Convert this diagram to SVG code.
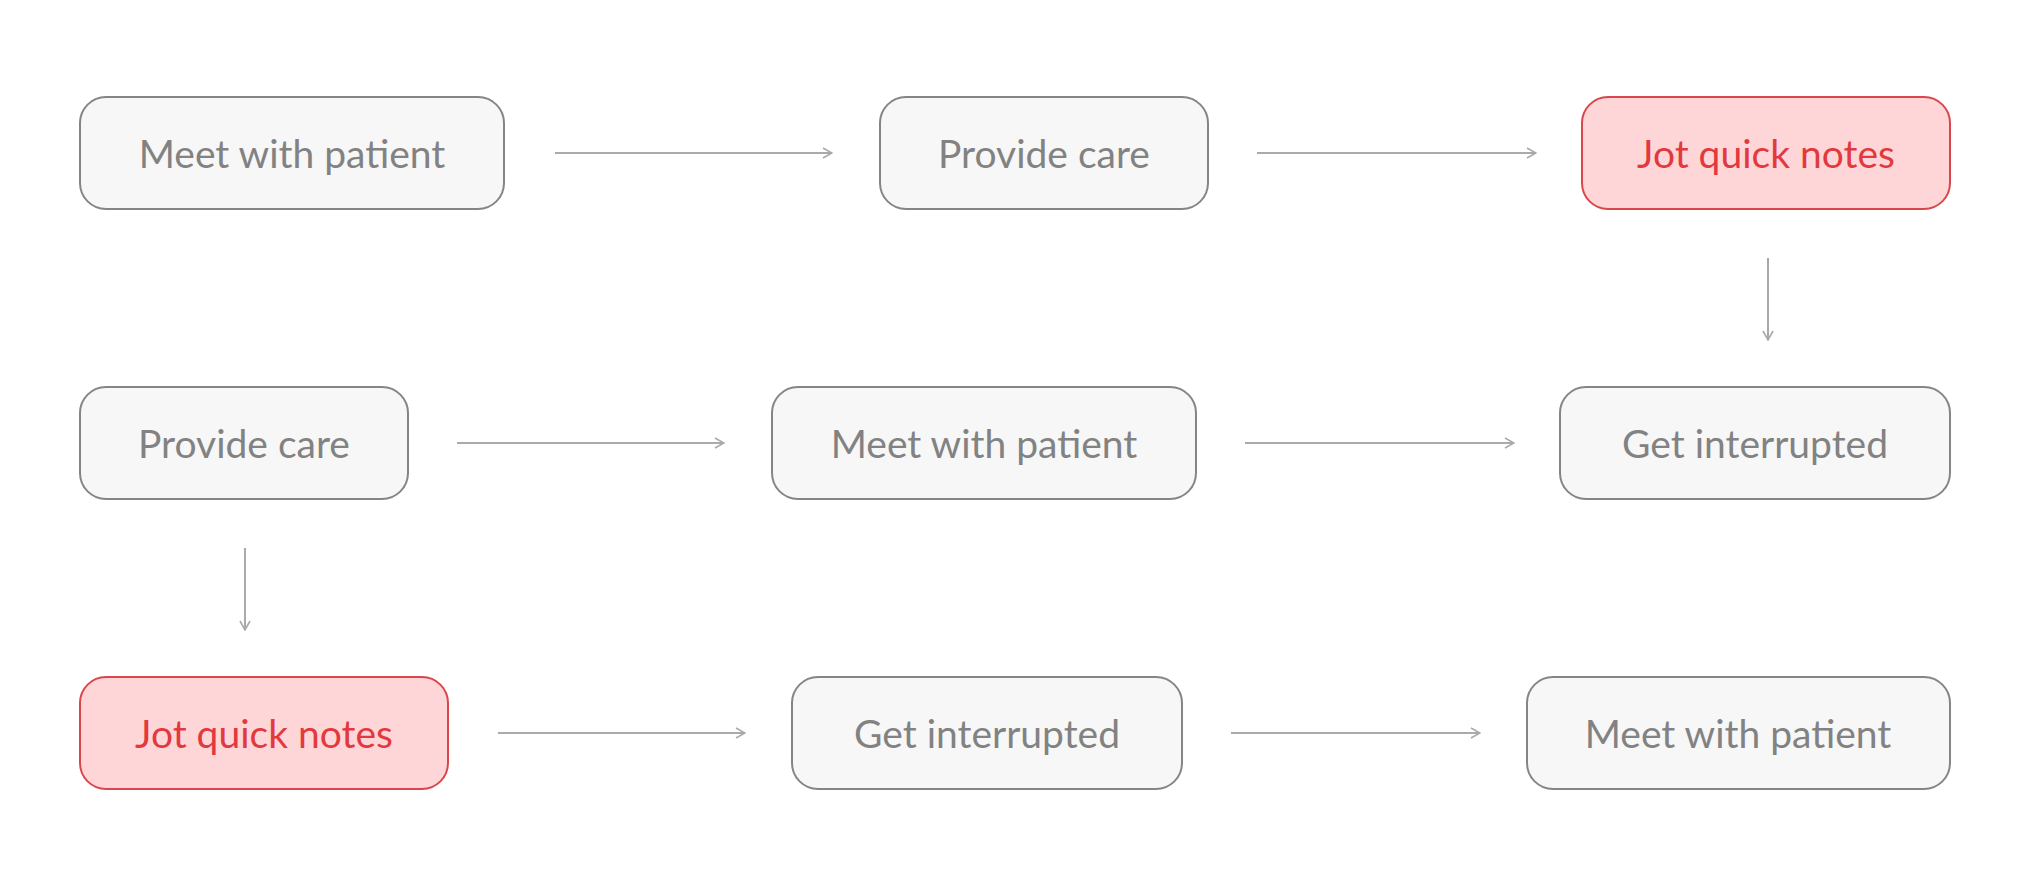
<svg xmlns="http://www.w3.org/2000/svg" width="2032" height="886" viewBox="0 0 2032 886">
<style>
.n rect{fill:#f7f7f7;stroke:#858585;stroke-width:2}
.n text{fill:#828282;font-family:Lato,"Open Sans",sans-serif;font-size:39px;text-anchor:middle;dominant-baseline:central}
.r rect{fill:#ffd6d7;stroke:#d9474c}
.r text{fill:#e2393f}
#edges line{stroke:#aaaaaa;stroke-width:2;marker-end:url(#a)}
</style>
<defs><marker id="a" viewBox="0 0 12 12" refX="11" refY="6" markerWidth="12" markerHeight="12" markerUnits="userSpaceOnUse" orient="auto"><path d="M2,1 L11,6 L2,11" fill="none" stroke="#aaaaaa" stroke-width="1.6"/></marker></defs>
<rect width="2032" height="886" fill="#fff"/>
<g id="n1" class="n"><rect x="80" y="97" width="424" height="112" rx="26"/><text x="292" y="153">Meet with patient</text></g>
<g id="n2" class="n"><rect x="880" y="97" width="328" height="112" rx="26"/><text x="1044" y="153">Provide care</text></g>
<g id="n3" class="n r"><rect x="1582" y="97" width="368" height="112" rx="26"/><text x="1766" y="153">Jot quick notes</text></g>
<g id="n4" class="n"><rect x="80" y="387" width="328" height="112" rx="26"/><text x="244" y="443">Provide care</text></g>
<g id="n5" class="n"><rect x="772" y="387" width="424" height="112" rx="26"/><text x="984" y="443">Meet with patient</text></g>
<g id="n6" class="n"><rect x="1560" y="387" width="390" height="112" rx="26"/><text x="1755" y="443">Get interrupted</text></g>
<g id="n7" class="n r"><rect x="80" y="677" width="368" height="112" rx="26"/><text x="264" y="733">Jot quick notes</text></g>
<g id="n8" class="n"><rect x="792" y="677" width="390" height="112" rx="26"/><text x="987" y="733">Get interrupted</text></g>
<g id="n9" class="n"><rect x="1527" y="677" width="423" height="112" rx="26"/><text x="1738" y="733">Meet with patient</text></g>
<g id="edges">
<line x1="555" y1="153" x2="832" y2="153"/>
<line x1="1257" y1="153" x2="1536" y2="153"/>
<line x1="1768" y1="258" x2="1768" y2="340"/>
<line x1="457" y1="443" x2="724" y2="443"/>
<line x1="1245" y1="443" x2="1514" y2="443"/>
<line x1="245" y1="548" x2="245" y2="630"/>
<line x1="498" y1="733" x2="745" y2="733"/>
<line x1="1231" y1="733" x2="1480" y2="733"/>
</g>
</svg>
